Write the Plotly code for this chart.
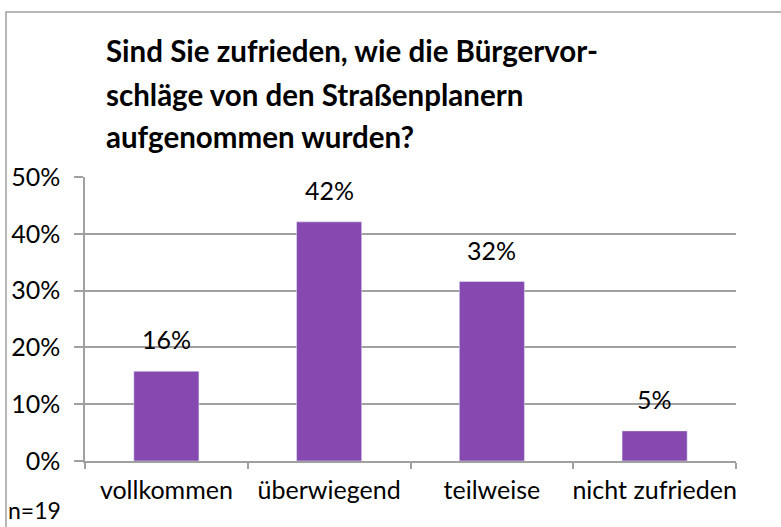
import plotly.graph_objects as go

categories = ["vollkommen", "überwiegend", "teilweise", "nicht zufrieden"]
values = [0.158, 0.421, 0.316, 0.053]
title_lines = ["Sind Sie zufrieden, wie die Bürgervor-",
               "schläge von den Straßenplanern",
               "aufgenommen wurden?"]
note = "n=19"

FONT = "Lato"
GRAY = "#a0a0a0"
BAR = "#8549b0"

W, H = 781, 527
X0, X1, Y0, Y1 = 85, 736, 177, 461  # plot area in screen pixels
L, R, T, B = X0, W - X1, Y0, H - Y1
PW, PH = X1 - X0, Y1 - Y0

def px(p):
    return (p - X0) / PW

def py(p):
    return (Y1 - p) / PH

fig = go.Figure(go.Bar(x=categories, y=values, marker_color=BAR, width=0.4))

ann = []
for c, v in zip(categories, values):
    ann.append(dict(x=c, y=v, xref="x", yref="y", text=f"{round(v*100)}%",
                    showarrow=False, yanchor="bottom", yshift=15,
                    font=dict(family=FONT, size=25, color="#000")))
for i, (line, yc) in enumerate(zip(title_lines, [51, 94, 136])):
    ann.append(dict(x=px(104), y=py(yc), xref="paper", yref="paper", text=f"<b>{line}</b>",
                    showarrow=False, xanchor="left", yanchor="middle",
                    font=dict(family=FONT, size=29.5, color="#000")))
ann.append(dict(x=px(6), y=py(526), xref="paper", yref="paper", text=note,
                showarrow=False, xanchor="left", yanchor="bottom",
                font=dict(family=FONT, size=23, color="#000")))

fig.update_layout(
    width=W, height=H,
    margin=dict(l=L, r=R, t=T, b=B),
    paper_bgcolor="white", plot_bgcolor="white",
    showlegend=False,
    annotations=ann,
    shapes=[dict(type="rect", xref="paper", yref="paper",
                 x0=px(6), x1=px(800), y0=py(12), y1=py(560),
                 line=dict(color=GRAY, width=1.5), layer="below")],
    yaxis=dict(range=[0, 0.5], dtick=0.1, tickformat=".0%", automargin=False,
               showgrid=True, gridcolor=GRAY, gridwidth=1.5,
               showline=True, linecolor=GRAY, linewidth=1.5,
               ticks="outside", ticklen=9, tickcolor=GRAY, tickwidth=1.5,
               ticklabelstandoff=9, zeroline=False,
               tickfont=dict(family=FONT, size=25, color="#000")),
    xaxis=dict(type="category", tickson="boundaries", automargin=False,
               tickangle=0,
               showline=True, linecolor=GRAY, linewidth=1.5,
               ticks="outside", ticklen=6, tickcolor=GRAY, tickwidth=1.5,
               showgrid=False, ticklabelstandoff=6,
               tickfont=dict(family=FONT, size=25, color="#000")),
)

fig.write_html("out.html", config={"displayModeBar": False},
               post_script="document.body.style.margin='0';document.body.style.padding='0';")
